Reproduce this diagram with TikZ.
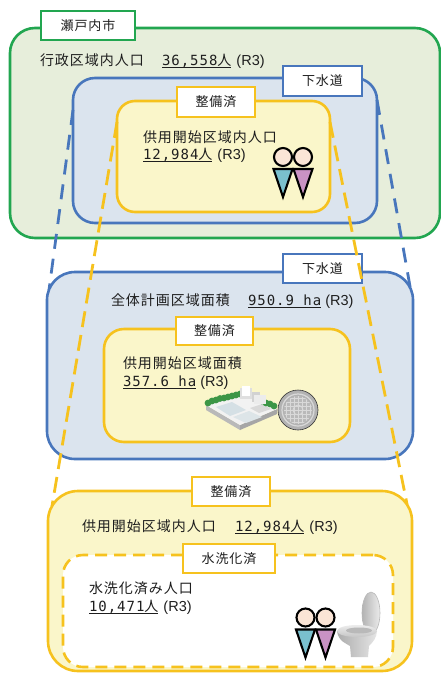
\documentclass[tikz,border=0pt]{standalone}
\usepackage{fontspec}
\setmainfont{Noto Sans CJK JP}[LetterSpace=7]
\newfontfamily\numfont{DejaVu Sans Mono}[LetterSpace=7]
\newfontfamily\latinfont{Liberation Sans}
\usetikzlibrary{calc}

\definecolor{cityline}{RGB}{34,166,80}
\definecolor{cityfill}{RGB}{231,238,219}
\definecolor{sewline}{RGB}{72,118,188}
\definecolor{sewfill}{RGB}{219,228,238}
\definecolor{doneline}{RGB}{246,194,30}
\definecolor{donefill}{RGB}{250,246,202}
\definecolor{inkcol}{RGB}{30,30,30}
\definecolor{skin}{RGB}{251,229,214}
\definecolor{manblue}{RGB}{122,192,206}
\definecolor{womanpink}{RGB}{201,146,196}
\definecolor{treegreen}{RGB}{60,150,70}

\pgfdeclarelayer{base}
\pgfdeclarelayer{bluelines}
\pgfdeclarelayer{yellowlines}
\pgfdeclarelayer{front}
\pgfsetlayers{base,bluelines,main,yellowlines,front}

\newcommand\digits[1]{{\numfont #1}}

\begin{document}
\begin{tikzpicture}[x=1pt,y=-1pt,
  every node/.style={inner sep=0pt, outer sep=0pt, text=inkcol},
  body/.style={font=\fontsize{14}{16}\selectfont, anchor=base west},
  note/.style={font=\latinfont\fontsize{14.5}{16}\selectfont, anchor=base west},
  tag/.style={draw, fill=white, line width=2.6pt, minimum height=29pt,
              font=\fontsize{13}{15}\selectfont},
  area/.style={draw, line width=2.6pt},
  ulline/.style={line width=0.9pt, draw=inkcol},
  guide/.style={line width=2.8pt},
  person/.pic={
    \draw[line width=2.1pt, fill=skin] (0,0) circle[radius=9];
    \draw[line width=2.1pt, fill=#1, line join=miter] (-9.5,12) -- (9.5,12) -- (0,40) -- cycle;
  },
]
\useasboundingbox (0,0) rectangle (441,673);

% ---------- city / sewer / served (top section) ----------
\begin{pgfonlayer}{base}
  \node[area, draw=cityline, fill=cityfill, rounded corners=25pt,
        minimum width=430pt, minimum height=210pt] (city) at (225,133) {};
  \node[tag, draw=cityline, minimum width=94pt] (citytag) at (88,25.5) {瀬戸内市};
  \node[body] (admlbl) at (40,65.5) {行政区域内人口};
  \node[body] (admnum) at (162,65.5) {\digits{36,558}人};
  \node[note] (admyr) at ([xshift=5pt]admnum.base east) {(R3)};
  \draw[ulline] ([yshift=-2.2pt]admnum.base west) -- ([yshift=-2.2pt]admnum.base east);

  \node[area, draw=sewline, fill=sewfill, rounded corners=22pt,
        minimum width=304pt, minimum height=145pt] (sewtop) at (225,150.5) {};
  \node[tag, draw=sewline, minimum width=79pt, minimum height=30pt] (sewtoptag) at (322.5,81) {下水道};

  \node[area, draw=doneline, fill=donefill, rounded corners=18pt,
        minimum width=213pt, minimum height=111pt] (donetop) at (223.5,156.5) {};
  \node[tag, draw=doneline, minimum width=78pt, minimum height=30pt] (donetoptag) at (216,102) {整備済};
  \node[body] (servlbl) at (143,142) {供用開始区域内人口};
  \node[body] (servnum) at (143,159.5) {\digits{12,984}人};
  \node[note] (servyr) at ([xshift=5pt]servnum.base east) {(R3)};
  \draw[ulline] ([yshift=-2.2pt]servnum.base west) -- ([yshift=-2.2pt]servnum.base east);

  \pic at (283,157) {person=manblue};
  \pic at (303,157) {person=womanpink};
\end{pgfonlayer}

% ---------- sewer planning area (middle section) ----------
\node[area, draw=sewline, fill=sewfill, rounded corners=28pt,
      minimum width=366pt, minimum height=187pt] (sewmid) at (230,365.5) {};
\node[tag, draw=sewline, minimum width=79pt] (sewmidtag) at (322.5,268.5) {下水道};
\node[body] (planlbl) at (111,305.5) {全体計画区域面積};
\node[body] (plannum) at (248,305.5) {\digits{950.9 ha}};
\node[note] (planyr) at ([xshift=4pt]plannum.base east) {(R3)};
\draw[ulline] ([yshift=-2.2pt]plannum.base west) -- ([yshift=-2.2pt]plannum.base east);

\node[area, draw=doneline, fill=donefill, rounded corners=20pt,
      minimum width=246pt, minimum height=113pt] (donemid) at (227,385.5) {};
\node[tag, draw=doneline, minimum width=77pt, minimum height=28pt] (donemidtag) at (214.5,331) {整備済};
\node[body] (arealbl) at (123,368) {供用開始区域面積};
\node[body] (areanum) at (123,386) {\digits{357.6 ha}};
\node[note] (areayr) at ([xshift=4pt]areanum.base east) {(R3)};
\draw[ulline] ([yshift=-2.2pt]areanum.base west) -- ([yshift=-2.2pt]areanum.base east);

% treatment plant on its slab
\fill[gray!55] (206,405) -- (240,425) -- (240,430) -- (206,410) -- cycle;
\fill[gray!70] (240,425) -- (277,409) -- (277,414) -- (240,430) -- cycle;
\fill[gray!10] (206,405) -- (244,392) -- (277,409) -- (240,425) -- cycle;
\fill[cyan!25!gray!30] (216,407) -- (232,402) -- (246,410) -- (230,416) -- cycle;
\fill[cyan!20!gray!25] (233,417) -- (249,411) -- (262,417) -- (246,423) -- cycle;
\fill[gray!30] (250,408) -- (262,404) -- (271,409) -- (259,413) -- cycle;
\foreach \p in {(208,403),(212,401),(216,400),(220,398.5),(224,398),(228,397),(232,396),(236,395),(240,394),(262,401),(266,403),(270,404),(274,406)}
  \fill[treegreen] \p circle[radius=3.4];
\fill[gray!25] (240,388) rectangle (252,399);
\fill[white] (242,386) rectangle (250,396);
\fill[gray!35] (252,392) rectangle (260,402);
\fill[white!85!gray] (254,395) rectangle (266,404);

% manhole cover
\fill[gray!60] (298,410) circle[radius=20];
\draw[gray!30, line width=1.2pt] (298,410) circle[radius=16];
\begin{scope}
  \clip (298,410) circle[radius=14];
  \fill[gray!55] (284,396) rectangle (312,424);
  \foreach \d in {-12,-8,...,12} {
    \draw[gray!30, line width=0.6pt] (298+\d,396) -- (298+\d,424);
    \draw[gray!30, line width=0.6pt] (284,410+\d) -- (312,410+\d);
  }
\end{scope}
\draw[gray!30, line width=0.9pt] (298,410) circle[radius=5];
\draw[gray!40!black, line width=0.6pt] (298,410) circle[radius=20];

% ---------- flush-toilet population (bottom section) ----------
\begin{pgfonlayer}{front}
  \node[area, draw=doneline, fill=donefill, rounded corners=30pt,
        minimum width=364pt, minimum height=180pt] (donebot) at (230,581) {};
  \node[tag, draw=doneline, minimum width=78pt] (donebottag) at (231,491.5) {整備済};
  \node[body] (botlbl) at (82,531) {供用開始区域内人口};
  \node[body] (botnum) at (235,531) {\digits{12,984}人};
  \node[note] (botyr) at ([xshift=5pt]botnum.base east) {(R3)};
  \draw[ulline] ([yshift=-2.2pt]botnum.base west) -- ([yshift=-2.2pt]botnum.base east);

  \node[area, draw=doneline, fill=white, rounded corners=20pt, dash pattern=on 12pt off 7pt,
        minimum width=330pt, minimum height=112pt] (flush) at (228,611) {};
  \node[tag, draw=doneline, minimum width=92pt] (flushtag) at (229,558.5) {水洗化済};
  \node[body] (flushlbl) at (89,593) {水洗化済み人口};
  \node[body] (flushnum) at (89,611.5) {\digits{10,471}人};
  \node[note] (flushyr) at ([xshift=5pt]flushnum.base east) {(R3)};
  \draw[ulline] ([yshift=-2.2pt]flushnum.base west) -- ([yshift=-2.2pt]flushnum.base east);

  \pic at (305.5,617.5) {person=manblue};
  \pic at (325.5,617.5) {person=womanpink};

  % toilet
  \shade[left color=gray!60, right color=gray!15] (371,613) ellipse[x radius=9, y radius=21];
  \draw[gray!55, line width=0.6pt] (371,613) ellipse[x radius=9, y radius=21];
  \shade[left color=gray!65, right color=gray!20]
    (337,631) .. controls (338,641) and (347,644) .. (350,646) -- (351,657) -- (368,657)
    -- (369,646) .. controls (372,643) and (377,638) .. (377,631) -- cycle;
  \shade[top color=gray!15, bottom color=gray!45] (357,631) ellipse[x radius=20, y radius=6];
  \fill[gray!55] (359,630.5) ellipse[x radius=13, y radius=3];
\end{pgfonlayer}

% ---------- dashed guide lines between the sections ----------
\begin{pgfonlayer}{bluelines}
  \draw[guide, draw=sewline, dash pattern=on 15pt off 10pt]
    ([yshift=-32pt]sewtop.north west) -- ([xshift=2pt,yshift=-18pt]sewmid.north west);
  \draw[guide, draw=sewline, dash pattern=on 15pt off 10pt]
    ([yshift=-22pt]sewtop.north east) -- ([xshift=-2pt,yshift=-20pt]sewmid.north east);
\end{pgfonlayer}
\begin{pgfonlayer}{yellowlines}
  \draw[guide, draw=doneline, dash pattern=on 16pt off 8pt]
    ([yshift=-21pt]donetop.north west) -- ([xshift=4pt,yshift=-15pt]donebot.north west);
  \draw[guide, draw=doneline, dash pattern=on 16pt off 8pt]
    ([yshift=-21pt]donetop.north east) -- ([xshift=-5pt,yshift=-13pt]donebot.north east);
\end{pgfonlayer}
\end{tikzpicture}
\end{document}
